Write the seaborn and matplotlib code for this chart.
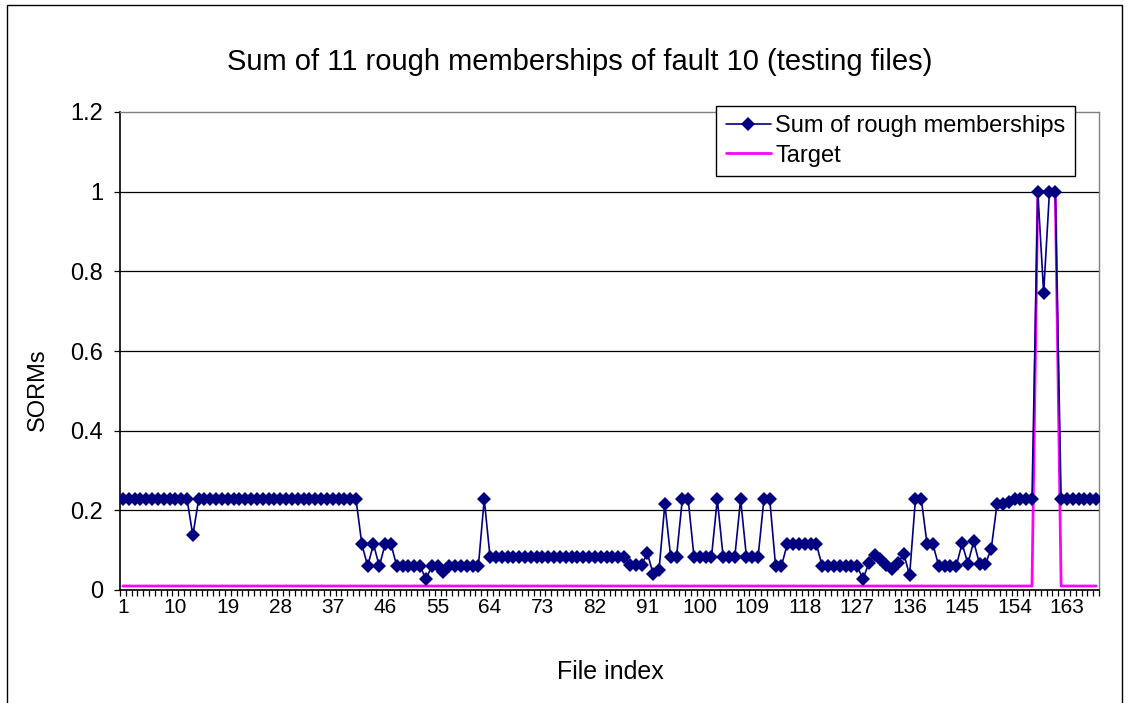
import pandas as pd
import matplotlib.pyplot as plt
import seaborn as sns
from matplotlib.patches import Rectangle
from matplotlib.ticker import FixedLocator

# valeurs (168 fichiers de test)
file_index = list(range(1, 169))

sorms = [
    0.228, 0.228, 0.228, 0.228, 0.228, 0.228, 0.228, 0.228, 0.228, 0.228, 0.228, 0.228,
    0.137, 0.228, 0.228, 0.228, 0.228, 0.228, 0.228, 0.228, 0.228, 0.228, 0.228, 0.228,
    0.228, 0.228, 0.228, 0.228, 0.228, 0.228, 0.228, 0.228, 0.228, 0.228, 0.228, 0.228,
    0.228, 0.228, 0.228, 0.228, 0.228, 0.115, 0.060, 0.115, 0.060, 0.115, 0.115, 0.060,
    0.060, 0.060, 0.060, 0.060, 0.027, 0.060, 0.060, 0.046, 0.060, 0.060, 0.060, 0.060,
    0.060, 0.060, 0.228, 0.083, 0.083, 0.083, 0.083, 0.083, 0.083, 0.083, 0.083, 0.083,
    0.083, 0.083, 0.083, 0.083, 0.083, 0.083, 0.083, 0.083, 0.083, 0.083, 0.083, 0.083,
    0.083, 0.083, 0.083, 0.063, 0.063, 0.063, 0.092, 0.040, 0.050, 0.216, 0.083, 0.083,
    0.228, 0.228, 0.083, 0.083, 0.083, 0.083, 0.228, 0.083, 0.083, 0.083, 0.228, 0.083,
    0.083, 0.083, 0.228, 0.228, 0.060, 0.060, 0.115, 0.115, 0.115, 0.115, 0.115, 0.115,
    0.060, 0.060, 0.060, 0.060, 0.060, 0.060, 0.060, 0.027, 0.068, 0.088, 0.079, 0.063,
    0.052, 0.067, 0.091, 0.037, 0.228, 0.228, 0.115, 0.115, 0.060, 0.060, 0.060, 0.060,
    0.117, 0.066, 0.122, 0.065, 0.065, 0.103, 0.215, 0.215, 0.222, 0.228, 0.228, 0.228,
    0.228, 1.000, 0.746, 1.000, 1.000, 0.228, 0.228, 0.228, 0.228, 0.228, 0.228, 0.228,
]

target = [
    0.01, 0.01, 0.01, 0.01, 0.01, 0.01, 0.01, 0.01, 0.01, 0.01, 0.01, 0.01,
    0.01, 0.01, 0.01, 0.01, 0.01, 0.01, 0.01, 0.01, 0.01, 0.01, 0.01, 0.01,
    0.01, 0.01, 0.01, 0.01, 0.01, 0.01, 0.01, 0.01, 0.01, 0.01, 0.01, 0.01,
    0.01, 0.01, 0.01, 0.01, 0.01, 0.01, 0.01, 0.01, 0.01, 0.01, 0.01, 0.01,
    0.01, 0.01, 0.01, 0.01, 0.01, 0.01, 0.01, 0.01, 0.01, 0.01, 0.01, 0.01,
    0.01, 0.01, 0.01, 0.01, 0.01, 0.01, 0.01, 0.01, 0.01, 0.01, 0.01, 0.01,
    0.01, 0.01, 0.01, 0.01, 0.01, 0.01, 0.01, 0.01, 0.01, 0.01, 0.01, 0.01,
    0.01, 0.01, 0.01, 0.01, 0.01, 0.01, 0.01, 0.01, 0.01, 0.01, 0.01, 0.01,
    0.01, 0.01, 0.01, 0.01, 0.01, 0.01, 0.01, 0.01, 0.01, 0.01, 0.01, 0.01,
    0.01, 0.01, 0.01, 0.01, 0.01, 0.01, 0.01, 0.01, 0.01, 0.01, 0.01, 0.01,
    0.01, 0.01, 0.01, 0.01, 0.01, 0.01, 0.01, 0.01, 0.01, 0.01, 0.01, 0.01,
    0.01, 0.01, 0.01, 0.01, 0.01, 0.01, 0.01, 0.01, 0.01, 0.01, 0.01, 0.01,
    0.01, 0.01, 0.01, 0.01, 0.01, 0.01, 0.01, 0.01, 0.01, 0.01, 0.01, 0.01,
    0.01, 1.00, 1.00, 1.00, 1.00, 0.01, 0.01, 0.01, 0.01, 0.01, 0.01, 0.01,
]

xtick_values = [1, 10, 19, 28, 37, 46, 55, 64, 73, 82, 91, 100, 109, 118, 127, 136, 145, 154, 163]
ytick_values = [0, 0.2, 0.4, 0.6, 0.8, 1, 1.2]
ytick_labels = ['0', '0.2', '0.4', '0.6', '0.8', '1', '1.2']

df = pd.DataFrame({'file': file_index, 'sorms': sorms, 'target': target})

sns.set_style('white')
plt.rcParams['font.family'] = ['Liberation Sans', 'DejaVu Sans']
plt.rcParams['text.color'] = 'black'
plt.rcParams['axes.labelcolor'] = 'black'
plt.rcParams['xtick.color'] = 'black'
plt.rcParams['ytick.color'] = 'black'

fig = plt.figure(figsize=(11.27, 7.03), dpi=100)
ax = fig.add_axes([120 / 1127, 1 - 590 / 703, 979 / 1127, 478 / 703])

sns.lineplot(data=df, x='file', y='target', ax=ax, color='#FF00FF', linewidth=2.0,
             label='Target', zorder=2)
sns.lineplot(data=df, x='file', y='sorms', ax=ax, color='#000080', linewidth=1.2,
             marker='D', markersize=7.5, markeredgewidth=0, label='Sum of rough memberships',
             zorder=3)

ax.set_xlim(0.5, 168.5)
ax.set_ylim(0, 1.2)

# grille horizontale noire
for yv in ytick_values[1:-1]:
    ax.axhline(yv, color='black', linewidth=0.9, zorder=1)

ax.set_yticks(ytick_values)
ax.set_yticklabels(ytick_labels, fontsize=17)
ax.set_xticks(xtick_values)
ax.set_xticklabels([str(v) for v in xtick_values], fontsize=15)
ax.xaxis.set_minor_locator(FixedLocator([i + 0.5 for i in range(0, 169)]))
ax.tick_params(axis='x', which='major', length=0, pad=6)
ax.tick_params(axis='x', which='minor', length=4.5, width=0.9, color='black', direction='out', bottom=True)
ax.tick_params(axis='y', which='major', length=4, width=0.9, color='black', direction='out', left=True, pad=8)

for side in ['top', 'right']:
    ax.spines[side].set_color('#808080')
    ax.spines[side].set_linewidth(1.0)
for side in ['left', 'bottom']:
    ax.spines[side].set_color('black')
    ax.spines[side].set_linewidth(1.2)

ax.set_xlabel('File index', fontsize=18, va='center')
ax.set_ylabel('SORMs', fontsize=17, va='center')
ax.xaxis.set_label_coords(490 / 979, (590 - 672) / 478)
ax.yaxis.set_label_coords((38 - 120) / 979, (590 - 390) / 478)

fig.text(0.514, 1 - 62 / 703, 'Sum of 11 rough memberships of fault 10 (testing files)',
         ha='center', va='center', fontsize=21)

handles, labels = ax.get_legend_handles_labels()
leg = ax.legend(handles[::-1], labels[::-1], loc='upper right',
                bbox_to_anchor=(1075 / 1127, 1 - 106 / 703), bbox_transform=fig.transFigure,
                fontsize=17, frameon=True, fancybox=False, framealpha=1,
                edgecolor='black', borderpad=0.4, labelspacing=0.3, handlelength=1.9,
                handletextpad=0.2, borderaxespad=0)
leg.get_frame().set_linewidth(1.0)
leg.set_zorder(10)

# cadre du graphique
fig.patches.append(Rectangle((7 / 1127, -0.01), 1115 / 1127, 1 - 5 / 703 + 0.01,
                             transform=fig.transFigure, fill=False,
                             edgecolor='black', linewidth=1.0))

plt.savefig('out.png', dpi=100)
